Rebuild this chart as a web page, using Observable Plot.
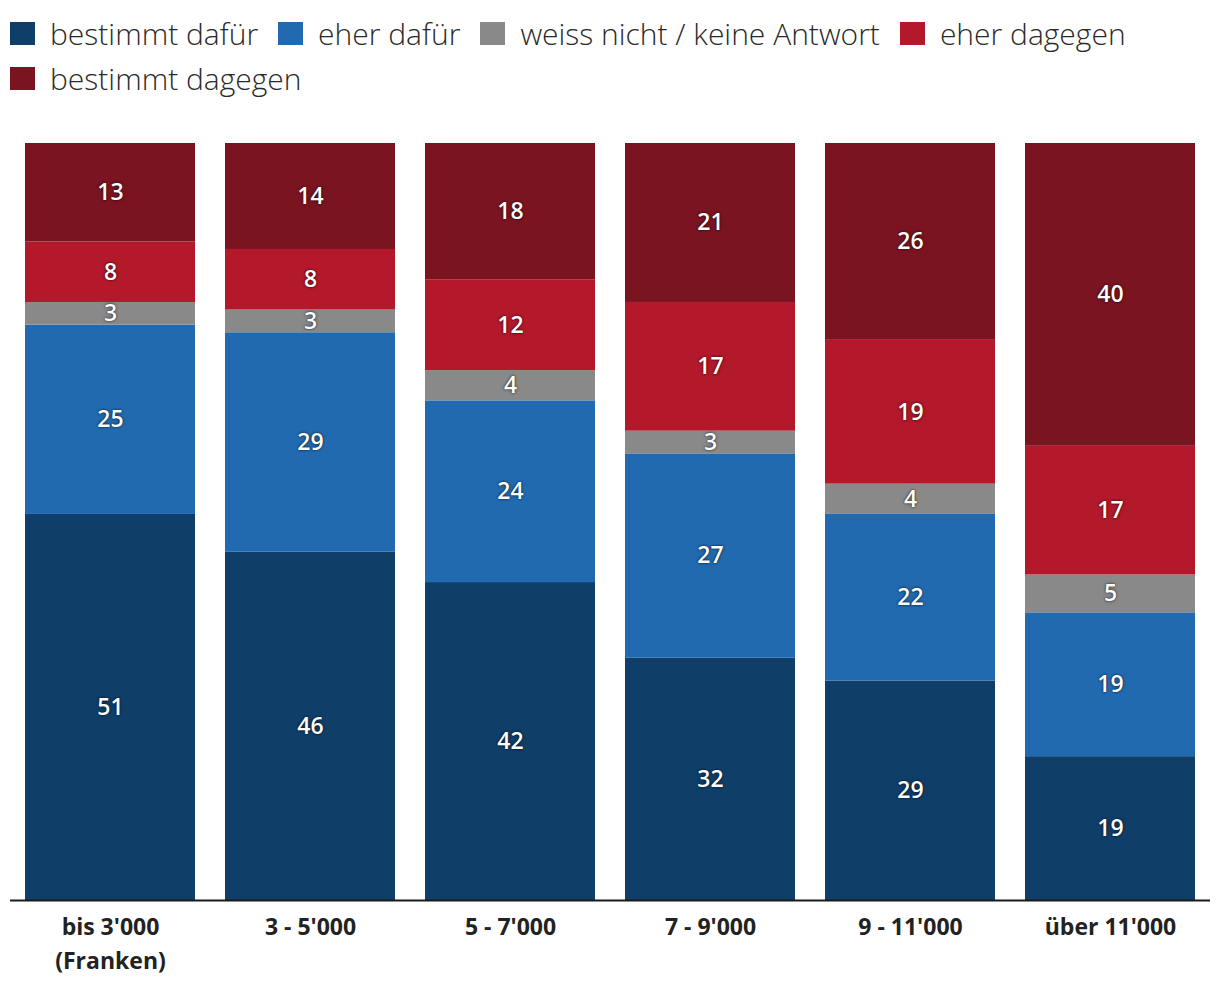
<!DOCTYPE html>
<html><head><meta charset="utf-8">
<script src="https://cdn.jsdelivr.net/npm/d3@7"></script>
<script src="https://cdn.jsdelivr.net/npm/@observablehq/plot@0.6"></script>
<style>
body{margin:0;background:#fff;font-family:"Open Sans",sans-serif;}
#legend{height:110px;box-sizing:border-box;padding:11px 0 0 10px;display:flex;flex-wrap:wrap;align-content:flex-start;width:1220px;}
.item{display:flex;align-items:center;height:45px;margin-right:20px;font-size:30px;font-weight:300;color:#2a2a2a;white-space:nowrap;}
.sw{width:25px;height:23px;margin-right:15px;flex:none;}
.seg text{text-shadow:0 0 3px rgba(0,0,0,0.7),0 0 1px rgba(0,0,0,0.5);}
</style></head>
<body>
<div id="legend"></div>
<div id="chart"></div>
<script>
const categories = ["bis 3'000\n(Franken)", "3 - 5'000", "5 - 7'000", "7 - 9'000", "9 - 11'000", "über 11'000"];
const series = ["bestimmt dafür", "eher dafür", "weiss nicht / keine Antwort", "eher dagegen", "bestimmt dagegen"];
const colors = ["#0f3e69", "#216ab0", "#898989", "#b3182b", "#7a1420"];
const bestimmtDafuer = [51, 46, 42, 32, 29, 19];
const eherDafuer = [25, 29, 24, 27, 22, 19];
const weissNicht = [3, 3, 4, 3, 4, 5];
const eherDagegen = [8, 8, 12, 17, 19, 17];
const bestimmtDagegen = [13, 14, 18, 21, 26, 40];

const seriesValues = [bestimmtDafuer, eherDafuer, weissNicht, eherDagegen, bestimmtDagegen];
const data = [];
series.forEach((s, i) => categories.forEach((c, j) => data.push({cat: c, series: s, value: seriesValues[i][j]})));

const legend = document.getElementById("legend");
series.forEach((s, i) => {
  const it = document.createElement("div"); it.className = "item";
  const sw = document.createElement("div"); sw.className = "sw"; sw.style.background = colors[i];
  it.appendChild(sw); it.appendChild(document.createTextNode(s));
  legend.appendChild(it);
});

const chart = Plot.plot({
  width: 1220, height: 888,
  marginTop: 33, marginBottom: 98, marginLeft: 10, marginRight: 10,
  style: {fontFamily: "Open Sans, sans-serif", background: "#fff"},
  x: {domain: categories, paddingInner: 0.15, paddingOuter: 0.075, axis: null},
  y: {domain: [0, 100], axis: null},
  color: {domain: series, range: colors},
  marks: [
    Plot.barY(data, {x: "cat", y: "value", fill: "series", order: series}),
    Plot.text(data, Plot.stackY({x: "cat", y: "value", z: "series", order: series, text: d => String(d.value),
      fill: "white", fontSize: 23, fontWeight: 600, className: "seg"})),
    Plot.ruleY([0], {stroke: "#1a1a1a", strokeWidth: 2}),
    Plot.text(categories, {x: d => d, frameAnchor: "bottom", lineAnchor: "top", dy: 11, fontSize: 23, fontWeight: 700, fill: "#222", lineHeight: 1.45})
  ]
});
document.getElementById("chart").appendChild(chart);
</script>
</body></html>
